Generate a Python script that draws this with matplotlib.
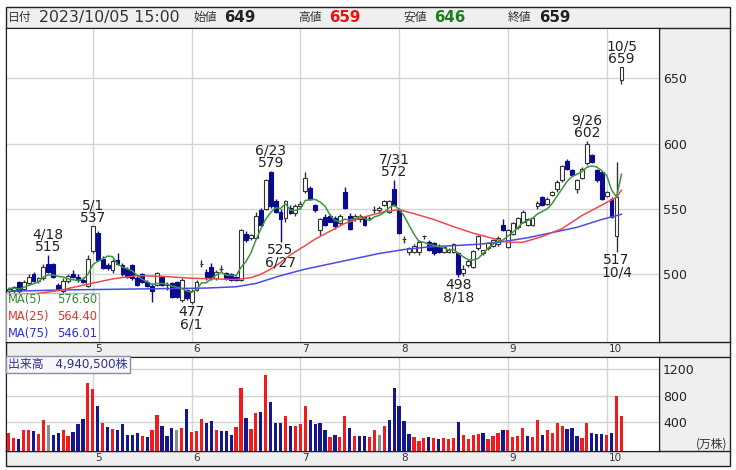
import pandas as pd
import matplotlib
matplotlib.use("Agg")
import matplotlib.pyplot as plt
from matplotlib.patches import Rectangle

plt.rcParams["font.family"] = ["DejaVu Sans", "Noto Sans CJK JP"]

W, H = 736, 470

# daily candles, 2023/4/6 .. 2023/10/5 (one entry per trading day)
OPEN = [487, 488, 494, 489, 493, 500, 495, 497, 508, 508,
        492, 487, 495, 500, 498, 496, 491, 518, 532, 512,
        507, 503, 511, 507, 504, 507, 497, 500, 494, 491,
        492, 498, 492, 493, 494, 480, 488, 479, 488, 508,
        502, 506, 497, 504, 501, 500, 498, 496, 531, 528,
        528, 549, 550, 578, 556, 548, 543, 551, 547, 552,
        564, 566, 553, 534, 544, 545, 543, 539, 563, 545,
        542, 542, 544, 543, 549, 549, 553, 548, 565, 549,
        527, 517, 517, 517, 529, 525, 524, 522, 517, 517,
        517, 516, 501, 507, 506, 520, 516, 520, 522, 523,
        538, 521, 531, 536, 540, 538, 538, 552, 559, 554,
        561, 565, 572, 587, 580, 565, 574, 585, 591, 580,
        578, 560, 558, 529, 649]
HIGH = [490, 491, 495, 496, 500, 502, 498, 508, 515, 509,
        493, 497, 500, 503, 500, 498, 515, 537, 533, 514,
        509, 512, 516, 509, 506, 508, 499, 501, 496, 493,
        502, 499, 494, 494, 495, 497, 489, 489, 496, 511,
        504, 509, 503, 507, 502, 501, 499, 535, 533, 531,
        548, 551, 573, 579, 558, 550, 557, 553, 554, 556,
        578, 568, 554, 543, 546, 546, 545, 546, 567, 547,
        546, 546, 545, 545, 552, 552, 557, 557, 572, 551,
        529, 521, 523, 526, 530, 526, 525, 523, 522, 520,
        524, 517, 507, 512, 519, 530, 519, 525, 527, 529,
        542, 535, 540, 544, 549, 543, 544, 556, 560, 559,
        564, 572, 584, 588, 581, 573, 582, 602, 592, 581,
        579, 564, 559, 586, 659]
LOW = [485, 486, 486, 488, 492, 494, 493, 496, 501, 497,
       488, 486, 493, 497, 494, 493, 490, 516, 510, 504,
       503, 501, 507, 499, 497, 496, 491, 493, 490, 479,
       491, 491, 488, 482, 482, 479, 480, 477, 487, 506,
       496, 496, 496, 502, 496, 495, 495, 495, 525, 526,
       527, 537, 549, 551, 547, 525, 540, 546, 545, 550,
       562, 557, 548, 530, 537, 540, 535, 538, 550, 534,
       541, 540, 537, 542, 547, 547, 552, 547, 552, 531,
       524, 515, 516, 515, 527, 518, 515, 516, 516, 516,
       516, 498, 499, 506, 505, 519, 515, 519, 521, 522,
       533, 520, 530, 535, 539, 537, 537, 550, 552, 553,
       560, 563, 571, 580, 575, 562, 573, 584, 585, 571,
       557, 559, 543, 517, 646]
CLOSE = [489, 490, 487, 494, 498, 495, 497, 506, 502, 498,
         489, 495, 499, 498, 496, 494, 512, 537, 511, 505,
         505, 510, 508, 500, 498, 497, 492, 494, 491, 487,
         501, 492, 492, 483, 483, 496, 482, 487, 494, 508,
         497, 497, 502, 504, 497, 496, 496, 534, 526, 530,
         545, 538, 572, 552, 548, 542, 556, 547, 552, 554,
         574, 558, 549, 542, 538, 540, 537, 545, 551, 535,
         545, 545, 538, 543, 549, 551, 556, 556, 553, 532,
         527, 520, 522, 525, 529, 519, 516, 517, 521, 519,
         523, 500, 504, 510, 518, 529, 519, 524, 526, 528,
         534, 534, 539, 543, 548, 542, 543, 555, 553, 558,
         563, 571, 583, 581, 576, 572, 581, 600, 586, 572,
         558, 563, 544, 559, 659]

# volume in 万株, colour code per day: r up / b down / g unchanged
VOLUME = [233, 146, 131, 274, 274, 253, 218, 426, 355, 197,
          233, 274, 182, 238, 360, 442, 986, 900, 640, 375,
          325, 284, 274, 360, 197, 197, 233, 182, 162, 274,
          498, 340, 182, 304, 269, 304, 589, 238, 258, 447,
          375, 411, 274, 253, 253, 197, 325, 915, 462, 289,
          533, 553, 1113, 696, 375, 375, 482, 340, 340, 360,
          635, 426, 360, 375, 274, 162, 197, 162, 482, 304,
          182, 182, 182, 162, 274, 197, 340, 426, 915, 635,
          411, 218, 162, 111, 146, 162, 146, 131, 146, 131,
          146, 396, 197, 131, 197, 218, 233, 131, 182, 233,
          269, 269, 162, 182, 304, 182, 162, 426, 197, 274,
          233, 375, 340, 289, 304, 182, 146, 375, 233, 218,
          218, 197, 233, 793, 494]
VOL_COLOR = "".join(["rrbrrbrrgb", "brrbbbrrbr", "brbbbbbrbr", "rbbbgrbrrr",
                     "bbrbbbrrbr", "rbrbbbrbrr", "rbbbbrbrrb", "rbbrrgrbbb",
                     "bbrrrbrbrr", "rbrrrrbrrr", "brrrrbrrbr", "rrrbbbrrbb",
                     "brbrr"])

# moving averages (index, value)
MA25_IDX = [0, 5, 10, 16, 21, 26, 31, 37, 42, 46, 49, 51, 53, 55, 57, 60, 62, 65,
            68, 72, 76, 79, 82, 86, 90, 94, 98, 101, 104, 108, 112, 116, 120, 122, 123, 124]
MA25_VAL = [484, 485, 487.5, 492.5, 496.5, 499, 498.5, 497, 496.5, 496, 497.5, 500,
            504, 509, 515, 522, 527, 533, 539, 544, 548, 549.5, 546.5, 542, 536.5,
            531.5, 527.5, 524.5, 524.5, 529, 535, 545, 553, 557, 559, 564.4]
MA75_IDX = [0, 10, 20, 30, 40, 46, 50, 55, 60, 65, 70, 75, 80, 85, 90, 95, 100,
            105, 110, 115, 120, 124]
MA75_VAL = [487, 488, 488.5, 489, 489.5, 490.5, 493, 499, 504, 508, 512, 516, 519,
            521, 522, 523, 525, 528, 532, 536, 542, 546]
MA_LEGEND = [("MA(5)", "576.60", "#2f8a2f"),
             ("MA(25)", "564.40", "#e83030"),
             ("MA(75)", "546.01", "#2f2fd0")]

HIGH_MARKS = [(8, "4/18"), (17, "5/1"), (53, "6/23"), (78, "7/31"), (117, "9/26"), (124, "10/5")]
LOW_MARKS = [(37, "6/1"), (55, "6/27"), (91, "8/18"), (123, "10/4")]

MONTH_POS = [17, 37, 59, 79, 101, 121]
MONTH_LABELS = ["5", "6", "7", "8", "9", "10"]
PRICE_TICKS = [500, 550, 600, 650]
VOL_TICKS = [400, 800, 1200]

N = len(CLOSE)
idx = list(range(N))
ma5 = pd.Series(CLOSE).rolling(5, min_periods=1).mean()

fig = plt.figure(figsize=(W / 100, H / 100), dpi=100)


def px_box(x0, y0, x1, y1):
    return [x0 / W, 1 - y1 / H, (x1 - x0) / W, (y1 - y0) / H]


# grey frame, header and strips (pixel coordinates)
bg = fig.add_axes([0, 0, 1, 1])
bg.set_xlim(0, W)
bg.set_ylim(H, 0)
bg.axis("off")
bg.add_patch(Rectangle((6, 7), 724, 459, fc="#efefef", ec="#222222", lw=1))
for y in (28, 342, 357, 451):
    bg.plot([6, 730], [y, y], color="#222222", lw=1)
bg.plot([659, 659], [28, 342], color="#222222", lw=1)
bg.plot([659, 659], [357, 451], color="#222222", lw=1)

jp = ["Noto Sans CJK JP", "DejaVu Sans"]
hy = 17.5
bg.text(8, hy, "日付", fontsize=8.5, family=jp, color="#333333", va="center")
bg.text(39, hy, "2023/10/05 15:00", fontsize=11.3, color="#333333", va="center")
header = [(193, "始値", OPEN[-1], "#222222"), (298, "高値", HIGH[-1], "#ee1111"),
          (403, "安値", LOW[-1], "#1a7f1a"), (508, "終値", CLOSE[-1], "#222222")]
for x, lab, val, col in header:
    bg.text(x, hy, lab, fontsize=8.5, family=jp, color="#333333", va="center")
    bg.text(x + 31, hy, f"{val}", fontsize=10.8, fontweight="bold", color=col, va="center")
bg.text(727, 444, "(万株)", fontsize=8.5, family=jp, color="#333333", ha="right", va="center")

# price panel
ax = fig.add_axes(px_box(6, 28, 659, 342))
ax.set_xlim(-0.57, 131.6)
ax.set_ylim(448.2, 688.6)
ax.set_xticks(MONTH_POS)
ax.set_yticks(PRICE_TICKS)
ax.grid(True, color="#d4d4d4", lw=1, zorder=0)
ax.yaxis.tick_right()
ax.tick_params(axis="x", length=0, labelbottom=False)
ax.tick_params(axis="y", length=0, pad=3, labelsize=9, labelcolor="#222222")
for s in ax.spines.values():
    s.set_color("#222222")

navy = "#0a0a90"
up = [c >= o for o, c in zip(OPEN, CLOSE)]
ax.vlines(idx, LOW, HIGH, colors=["#333333" if u else navy for u in up], lw=1, zorder=3)
ax.bar(idx, [abs(c - o) for o, c in zip(OPEN, CLOSE)],
       bottom=[min(o, c) for o, c in zip(OPEN, CLOSE)], width=0.78,
       color=["white" if u else navy for u in up],
       edgecolor=["#333333" if u else navy for u in up], lw=0.8, zorder=4)

ax.plot(MA75_IDX, MA75_VAL, color="#4a4ae8", lw=1.1, zorder=5)
ax.plot(MA25_IDX, MA25_VAL, color="#f04a4a", lw=1.1, zorder=5)
ax.plot(idx, ma5, color="#3c963c", lw=1.1, zorder=5)

for i, d in HIGH_MARKS:
    ax.annotate(f"{d}\n{HIGH[i]}", xy=(i, HIGH[i]), xytext=(0, 1), textcoords="offset pixels",
                ha="center", va="bottom", fontsize=10, linespacing=0.87, color="#222222", zorder=7)
for i, d in LOW_MARKS:
    ax.annotate(f"{LOW[i]}\n{d}", xy=(i, LOW[i]), xytext=(0, -1), textcoords="offset pixels",
                ha="center", va="top", fontsize=10, linespacing=0.87, color="#222222", zorder=7)

# MA legend box
ax.add_patch(Rectangle((0, 0), 93 / 653, 49.3 / 314, transform=ax.transAxes,
                       fc="white", alpha=0.75, ec="#a0a0a0", lw=1, zorder=8))
for k, (lab, val, col) in enumerate(MA_LEGEND):
    yf = (342 - (299.5 + 16.8 * k)) / 314
    ax.text(1.5 / 653, yf, lab, transform=ax.transAxes, fontsize=8.3, color=col, va="center", zorder=9)
    ax.text(91 / 653, yf, val, transform=ax.transAxes, fontsize=8.3, color=col, va="center",
            ha="right", zorder=9)

# volume panel
axv = fig.add_axes(px_box(6, 357, 659, 451))
axv.set_xlim(-0.57, 131.6)
VOL_FLOOR, VOL_TOP = -47, 1388
axv.set_ylim(VOL_FLOOR, VOL_TOP)
axv.set_xticks(MONTH_POS)
axv.set_yticks(VOL_TICKS)
axv.grid(True, color="#d4d4d4", lw=1, zorder=0)
axv.yaxis.tick_right()
axv.tick_params(axis="x", length=0, labelbottom=False)
axv.tick_params(axis="y", length=0, pad=3, labelsize=9, labelcolor="#222222")
for s in axv.spines.values():
    s.set_color("#222222")
vcols = {"r": "#f01c1c", "b": "#16168c", "g": "#8c8c8c"}
axv.bar(idx, [v - VOL_FLOOR for v in VOLUME], bottom=VOL_FLOOR, width=0.66,
        color=[vcols[c] for c in VOL_COLOR], zorder=3)
axv.annotate("出来高　4,940,500株", xy=(0, 1), xycoords="axes fraction", xytext=(2, -7.3),
             textcoords="offset pixels", ha="left", va="center", fontsize=8.6, color="#30308c",
             bbox=dict(boxstyle="square,pad=0.18", fc="#f8f8f8", ec="#8c8ca8", lw=1), zorder=9)

# month labels in the grey strips
for pos, lab in zip(MONTH_POS, MONTH_LABELS):
    for a, dy in ((ax, -7), (axv, -7)):
        a.annotate(lab, xy=(pos, 0), xycoords=("data", "axes fraction"), xytext=(2, dy),
                   textcoords="offset pixels", ha="left", va="center", fontsize=7.5,
                   color="#333333", annotation_clip=False)

fig.savefig("out.png", dpi=100)
